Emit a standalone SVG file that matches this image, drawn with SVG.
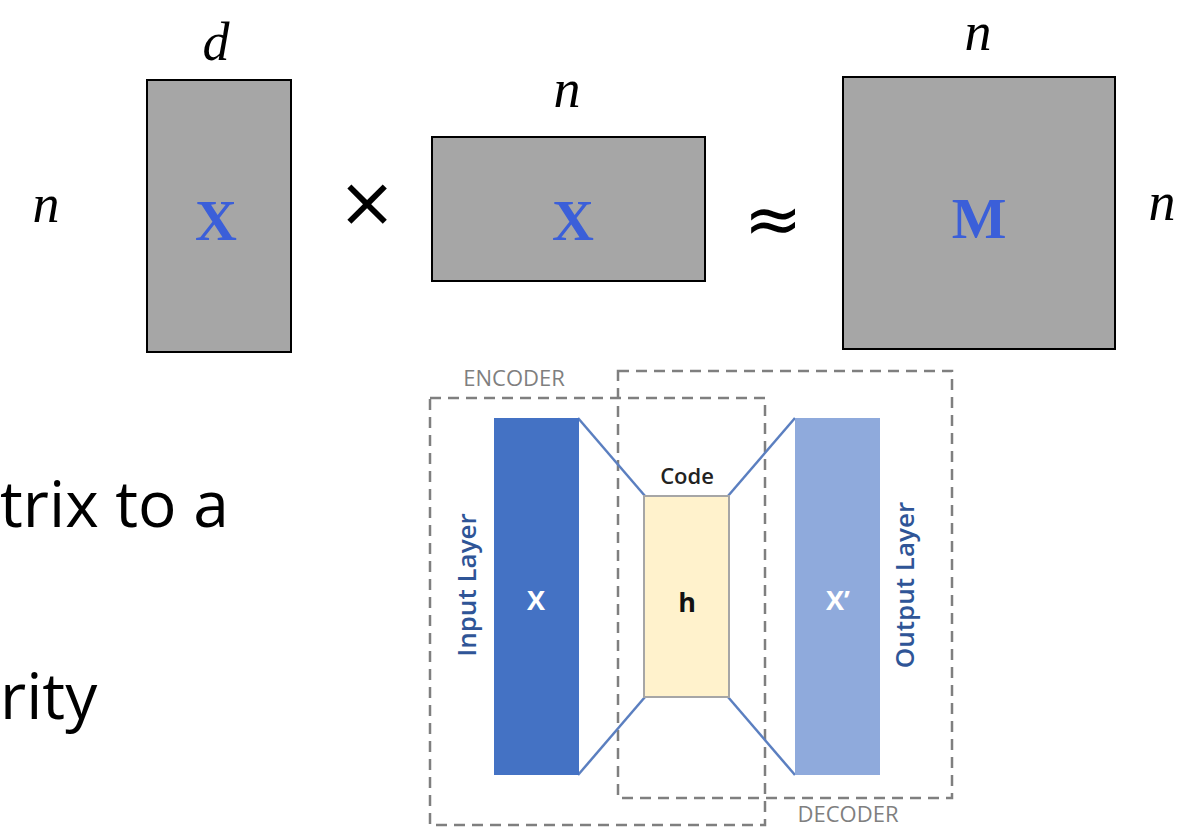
<svg xmlns="http://www.w3.org/2000/svg" width="1182" height="828" viewBox="0 0 1182 828">
<defs>
<style>
.mat{fill:#a6a6a6;stroke:#000;stroke-width:2}
.var{font-family:"Liberation Serif","DejaVu Serif",serif;font-style:italic;font-size:54px;fill:#000}
.bold{font-family:"Liberation Serif","DejaVu Serif",serif;font-weight:bold;font-size:58px;fill:#3b5fd9}
.op{font-family:"DejaVu Sans","Liberation Sans",sans-serif;font-size:70px;fill:#000}
.body{font-family:"Open Sans","Liberation Sans",sans-serif;font-size:64px;fill:#000}
.dash{fill:none;stroke:#7f7f7f;stroke-width:2.5;stroke-dasharray:11 7}
.lbl{font-family:"Open Sans","Liberation Sans",sans-serif;font-size:22px;fill:#7f7f7f}
.conn{stroke:#5b7fc0;stroke-width:2.5;fill:none}
.side{font-family:"Open Sans","Liberation Sans",sans-serif;font-size:26px;font-weight:600;fill:#2f5597}
.inner{font-family:"Open Sans","Liberation Sans",sans-serif;font-size:27px;font-weight:bold}
</style>
</defs>
<rect width="1182" height="828" fill="#fff"/>

<g id="matrix-x1">
<rect class="mat" x="147" y="80" width="144" height="272"/>
<text class="bold" x="216" y="240" text-anchor="middle">X</text>
<text class="var" x="216" y="60" text-anchor="middle">d</text>
<text class="var" x="46" y="222" text-anchor="middle">n</text>
</g>
<text class="op" x="367" y="226" text-anchor="middle">×</text>
<g id="matrix-x2">
<rect class="mat" x="432" y="137" width="273" height="144"/>
<text class="bold" x="573" y="240" text-anchor="middle">X</text>
<text class="var" x="567" y="107" text-anchor="middle">n</text>
</g>
<text class="op" x="773" y="243" text-anchor="middle">≈</text>
<g id="matrix-m">
<rect class="mat" x="843" y="77" width="272" height="272"/>
<text class="bold" x="979" y="238" text-anchor="middle">M</text>
<text class="var" x="978" y="50" text-anchor="middle">n</text>
<text class="var" x="1162" y="220" text-anchor="middle">n</text>
</g>

<text class="body" x="0" y="527">trix to a</text>
<text class="body" x="0" y="719">rity</text>

<g id="encoder">
<rect class="dash" x="430" y="398" width="335" height="427"/>
<text class="lbl" x="514" y="386" text-anchor="middle">ENCODER</text>
</g>
<g id="decoder">
<rect class="dash" x="618" y="371" width="334" height="427"/>
<text class="lbl" x="848" y="822" text-anchor="middle">DECODER</text>
</g>

<g id="connectors">
<line class="conn" x1="578" y1="418" x2="645" y2="496"/>
<line class="conn" x1="578" y1="775" x2="645" y2="697"/>
<line class="conn" x1="728" y1="496" x2="795" y2="418"/>
<line class="conn" x1="728" y1="697" x2="795" y2="775"/>
</g>

<g id="input-layer">
<rect x="494" y="418" width="85" height="357" fill="#4472c4"/>
<text class="inner" x="536" y="610" text-anchor="middle" fill="#fff">X</text>
<text class="side" transform="translate(476,585) rotate(-90)" text-anchor="middle">Input Layer</text>
</g>
<g id="code">
<rect x="644" y="496" width="85" height="201" fill="#fff2cc" stroke="#a6a6a6" stroke-width="2"/>
<text class="inner" x="687" y="612" text-anchor="middle" fill="#111">h</text>
<text x="687" y="484" text-anchor="middle" font-family="Open Sans, Liberation Sans, sans-serif" font-size="22" font-weight="600" fill="#222">Code</text>
</g>
<g id="output-layer">
<rect x="795" y="418" width="85" height="357" fill="#8faadc"/>
<text class="inner" x="838" y="610" text-anchor="middle" fill="#fff">X’</text>
<text class="side" transform="translate(914,585) rotate(-90)" text-anchor="middle">Output Layer</text>
</g>
</svg>
